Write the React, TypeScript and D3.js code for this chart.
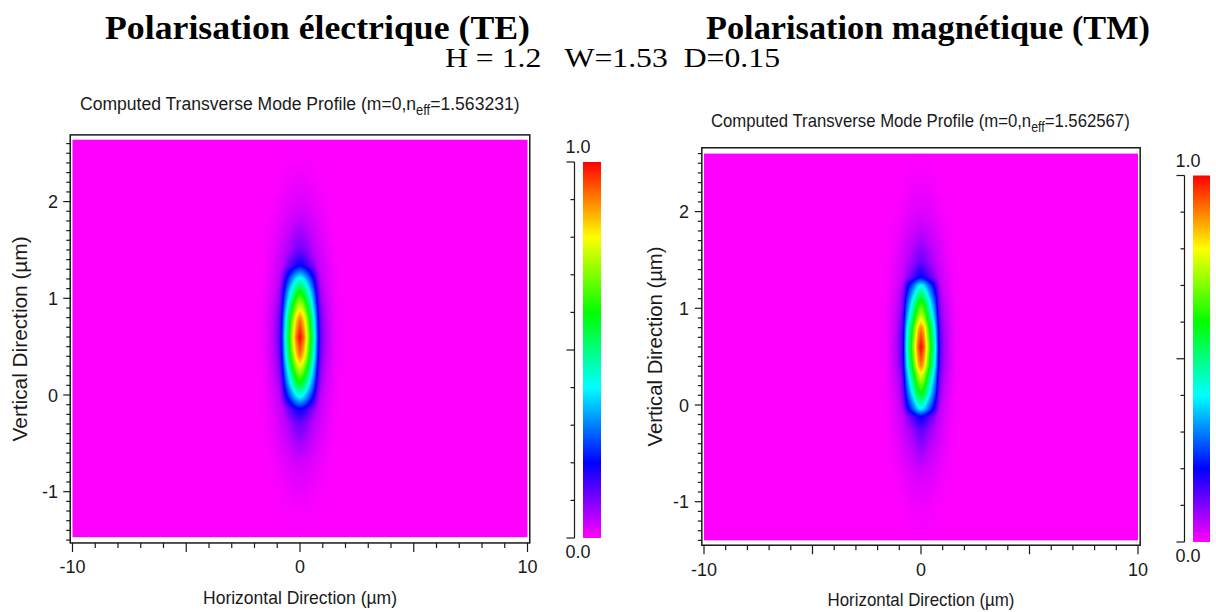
import React, { useMemo } from "react";
import * as d3 from "d3";

// Colour ramp used for the normalised field intensity (0 → 1)
const COLOR_STOPS = [0, 0.2, 0.4, 0.6, 0.8, 1];
const COLOR_RAMP = ["#ff00ff", "#0000ff", "#00ffff", "#00ff00", "#ffff00", "#ff0000"];

// TE mode core: normalised intensity against distance from the peak (µm)
const TE_H_DIST = [0, 0.12, 0.18, 0.29, 0.48, 0.66, 0.81, 0.92, 1.1, 1.37, 1.6, 2.0];
const TE_H_VAL = [1, 0.94, 0.9, 0.8, 0.6, 0.4, 0.2, 0.12, 0.07, 0.03, 0.008, 0];
const TE_V_DIST = [0, 0.15, 0.2, 0.29, 0.47, 0.62, 0.74, 0.88, 1.1, 1.35, 1.67, 2.1];
const TE_V_VAL = [1, 0.93, 0.9, 0.8, 0.6, 0.4, 0.2, 0.12, 0.07, 0.025, 0.005, 0];
const TE_PEAK = [0, 0.6];

// TM mode core: normalised intensity against distance from the peak (µm)
const TM_H_DIST = [0, 0.12, 0.17, 0.26, 0.46, 0.67, 0.81, 0.92, 1.1, 1.37, 1.6, 2.0];
const TM_H_VAL = [1, 0.94, 0.9, 0.8, 0.6, 0.4, 0.2, 0.12, 0.07, 0.03, 0.008, 0];
const TM_V_DIST = [0, 0.15, 0.2, 0.28, 0.48, 0.64, 0.72, 0.87, 1.1, 1.35, 1.67, 2.1];
const TM_V_VAL = [1, 0.93, 0.9, 0.8, 0.6, 0.4, 0.2, 0.12, 0.07, 0.025, 0.005, 0];
const TM_PEAK = [0, 0.6];

// Evanescent halo: intensity against normalised elliptical radius
const HALO_AXES = [1.65, 1.75]; // semi-axes (µm): horizontal, vertical
const HALO_R = [0, 0.45, 0.65, 0.8, 1.0, 1.2];
const HALO_VAL = [0.16, 0.1, 0.05, 0.025, 0.006, 0];

// Computational windows (µm) and axis extents
const TE_X_DATA = [-10, 10];
const TE_Y_DATA = [-1.47, 2.64];
const TE_X_AXIS = [-10.1, 10.1];
const TE_Y_AXIS = [-1.53, 2.69];
const TM_X_DATA = [-10, 10];
const TM_Y_DATA = [-1.4, 2.6];
const TM_X_AXIS = [-10.1, 10.1];
const TM_Y_AXIS = [-1.45, 2.66];

// Tick values
const X_TICKS = d3.range(-10, 11, 1);
const X_LABELS = [-10, 0, 10];
const Y_LABELS = [-1, 0, 1, 2];
const CB_TICKS = d3.range(0, 11).map((i) => i / 10);

const TE_NEFF = "1.563231";
const TM_NEFF = "1.562567";

const SANS = "'Liberation Sans', Arial, sans-serif";
const SERIF = "'Liberation Serif', 'Times New Roman', serif";
const INK = "#1a1a1a";
// natural width (px) of the subtitle line set in 19px Arial metrics
const SUBTITLE_NATURAL = 477;

const colorScale = d3
  .scaleLinear<string>()
  .domain(COLOR_STOPS)
  .range(COLOR_RAMP)
  .interpolate(d3.interpolateRgb)
  .clamp(true);

type Panel = {
  neff: string;
  hDist: number[];
  hVal: number[];
  vDist: number[];
  vVal: number[];
  peak: number[];
  xData: number[];
  yData: number[];
  xAxis: number[];
  yAxis: number[];
  // layout
  xPix: [number, number]; // pixel of x=-10 and x=10
  yPix: [number, number]; // pixel of y=0 and y=1
  titleX: number;
  titleLen: number;
  titleY: number;
  yLabelEnd: number;
  xLabelBase: number;
  xTitleBase: number;
  xTitleLen: number;
  yTitleX: number;
  yTitleLen: number;
  cb: { x0: number; x1: number; top: number; bottom: number; axisX: number; labelX: number };
};

function fieldImage(p: Panel, xs: d3.ScaleLinear<number, number>, ys: d3.ScaleLinear<number, number>) {
  const hProf = d3.scaleLinear().domain(p.hDist).range(p.hVal).clamp(true);
  const vProf = d3.scaleLinear().domain(p.vDist).range(p.vVal).clamp(true);
  const halo = d3.scaleLinear().domain(HALO_R).range(HALO_VAL).clamp(true);
  const left = xs(p.xData[0]);
  const right = xs(p.xData[1]);
  const top = ys(p.yData[1]);
  const bottom = ys(p.yData[0]);
  const w = Math.round(right - left);
  const h = Math.round(bottom - top);
  const canvas = document.createElement("canvas");
  canvas.width = w;
  canvas.height = h;
  const ctx = canvas.getContext("2d")!;
  const img = ctx.createImageData(w, h);
  for (let j = 0; j < h; j++) {
    const dy = ys.invert(top + j + 0.5) - p.peak[1];
    const vy = vProf(Math.abs(dy));
    for (let i = 0; i < w; i++) {
      const dx = xs.invert(left + i + 0.5) - p.peak[0];
      const core = hProf(Math.abs(dx)) * vy;
      const r = Math.hypot(dx / HALO_AXES[0], dy / HALO_AXES[1]);
      const v = Math.max(core, halo(r));
      const c = d3.rgb(colorScale(v));
      const k = (j * w + i) * 4;
      img.data[k] = c.r;
      img.data[k + 1] = c.g;
      img.data[k + 2] = c.b;
      img.data[k + 3] = 255;
    }
  }
  ctx.putImageData(img, 0, 0);
  return { url: canvas.toDataURL(), left, top, w: right - left, h: bottom - top };
}

function ModePanel({ p, id }: { p: Panel; id: string }) {
  const xs = useMemo(() => d3.scaleLinear().domain([-10, 10]).range(p.xPix), [p]);
  const ys = useMemo(() => d3.scaleLinear().domain([0, 1]).range(p.yPix), [p]);
  const field = useMemo(() => fieldImage(p, xs, ys), [p, xs, ys]);

  const fx0 = xs(p.xAxis[0]);
  const fx1 = xs(p.xAxis[1]);
  const fy0 = ys(p.yAxis[1]);
  const fy1 = ys(p.yAxis[0]);

  const yMinor = d3
    .range(Math.ceil(p.yAxis[0] * 10), Math.floor(p.yAxis[1] * 10) + 1)
    .map((k) => k / 10);

  const cbScale = d3.scaleLinear().domain([0, 1]).range([p.cb.bottom, p.cb.top]);
  const gradId = `cb-${id}`;
  const xMid = xs(0);
  const sx = p.titleLen / SUBTITLE_NATURAL;

  return (
    <g>
      {/* subtitle */}
      <text
        transform={`translate(${p.titleX},${p.titleY}) scale(${sx},1)`}
        fontFamily={SANS}
        fontSize={19}
        fill={INK}
      >
        <tspan>Computed Transverse Mode Profile (m=0,n</tspan>
        <tspan dy={5} fontSize={14}>
          eff
        </tspan>
        <tspan dy={-5}>={p.neff})</tspan>
      </text>

      {/* field map */}
      <image
        href={field.url}
        x={field.left}
        y={field.top}
        width={field.w}
        height={field.h}
        preserveAspectRatio="none"
      />

      {/* frame */}
      <rect x={fx0} y={fy0} width={fx1 - fx0} height={fy1 - fy0} fill="none" stroke={INK} strokeWidth={1.5} />

      {/* y ticks */}
      {yMinor.map((v) => {
        const major = Math.abs(v - Math.round(v)) < 1e-6;
        return (
          <line
            key={`y${v}`}
            x1={fx0 - (major ? 7 : 4)}
            x2={fx0}
            y1={ys(v)}
            y2={ys(v)}
            stroke={INK}
            strokeWidth={1.2}
          />
        );
      })}
      {Y_LABELS.map((v) => (
        <text
          key={`yl${v}`}
          x={p.yLabelEnd}
          y={ys(v) + 6.5}
          textAnchor="end"
          fontFamily={SANS}
          fontSize={18}
          fill={INK}
        >
          {v < 0 ? `-${Math.abs(v)}` : v}
        </text>
      ))}

      {/* x ticks */}
      {X_TICKS.map((v) => {
        const major = v % 5 === 0;
        return (
          <line
            key={`x${v}`}
            x1={xs(v)}
            x2={xs(v)}
            y1={fy1}
            y2={fy1 + (major ? 9 : 5)}
            stroke={INK}
            strokeWidth={1.2}
          />
        );
      })}
      {X_LABELS.map((v) => (
        <text
          key={`xl${v}`}
          x={xs(v)}
          y={p.xLabelBase}
          textAnchor="middle"
          fontFamily={SANS}
          fontSize={18}
          fill={INK}
        >
          {v < 0 ? `-${Math.abs(v)}` : v}
        </text>
      ))}

      {/* axis titles */}
      <text
        x={xMid - p.xTitleLen / 2}
        y={p.xTitleBase}
        fontFamily={SANS}
        fontSize={19}
        fill={INK}
        textLength={p.xTitleLen}
        lengthAdjust="spacingAndGlyphs"
      >
        Horizontal Direction (µm)
      </text>
      <text
        transform={`translate(${p.yTitleX},${(fy0 + fy1) / 2}) rotate(-90)`}
        x={-p.yTitleLen / 2}
        y={0}
        fontFamily={SANS}
        fontSize={20}
        fill={INK}
        textLength={p.yTitleLen}
        lengthAdjust="spacingAndGlyphs"
      >
        Vertical Direction (µm)
      </text>

      {/* colour bar */}
      <defs>
        <linearGradient id={gradId} x1="0" y1="1" x2="0" y2="0">
          {COLOR_STOPS.map((s, i) => (
            <stop key={s} offset={s} stopColor={COLOR_RAMP[i]} />
          ))}
        </linearGradient>
      </defs>
      <rect
        x={p.cb.x0}
        y={p.cb.top}
        width={p.cb.x1 - p.cb.x0}
        height={p.cb.bottom - p.cb.top}
        fill={`url(#${gradId})`}
      />
      <line x1={p.cb.axisX} x2={p.cb.axisX} y1={cbScale(0)} y2={cbScale(1)} stroke={INK} strokeWidth={1.2} />
      {CB_TICKS.map((t, i) => {
        const len = i === 0 || i === 5 || i === 10 ? 8 : 4;
        return (
          <line
            key={`cb${i}`}
            x1={p.cb.axisX - len}
            x2={p.cb.axisX}
            y1={cbScale(t)}
            y2={cbScale(t)}
            stroke={INK}
            strokeWidth={1.2}
          />
        );
      })}
      <text x={p.cb.labelX} y={cbScale(1) - 9} textAnchor="middle" fontFamily={SANS} fontSize={18} fill={INK}>
        1.0
      </text>
      <text x={p.cb.labelX} y={cbScale(0) + 20} textAnchor="middle" fontFamily={SANS} fontSize={18} fill={INK}>
        0.0
      </text>
    </g>
  );
}

const TE_PANEL: Panel = {
  neff: TE_NEFF,
  hDist: TE_H_DIST,
  hVal: TE_H_VAL,
  vDist: TE_V_DIST,
  vVal: TE_V_VAL,
  peak: TE_PEAK,
  xData: TE_X_DATA,
  yData: TE_Y_DATA,
  xAxis: TE_X_AXIS,
  yAxis: TE_Y_AXIS,
  xPix: [72.5, 527.5],
  yPix: [395, 298.3],
  titleX: 80,
  titleLen: 441,
  titleY: 110,
  yLabelEnd: 58,
  xLabelBase: 573,
  xTitleBase: 604,
  xTitleLen: 194,
  yTitleX: 27,
  yTitleLen: 205,
  cb: { x0: 583, x1: 601, top: 162, bottom: 538, axisX: 574.5, labelX: 578 },
};

const TM_PANEL: Panel = {
  neff: TM_NEFF,
  hDist: TM_H_DIST,
  hVal: TM_H_VAL,
  vDist: TM_V_DIST,
  vVal: TM_V_VAL,
  peak: TM_PEAK,
  xData: TM_X_DATA,
  yData: TM_Y_DATA,
  xAxis: TM_X_AXIS,
  yAxis: TM_Y_AXIS,
  xPix: [704, 1138],
  yPix: [405, 308.3],
  titleX: 711,
  titleLen: 420,
  titleY: 127,
  yLabelEnd: 689,
  xLabelBase: 576,
  xTitleBase: 606,
  xTitleLen: 187,
  yTitleX: 662,
  yTitleLen: 200,
  cb: { x0: 1193, x1: 1210, top: 175.5, bottom: 542, axisX: 1184.5, labelX: 1188 },
};

export default function App() {
  return (
    <svg width={1216} height={612} style={{ position: "absolute", left: 0, top: 0, background: "#fff" }}>
      <rect width={1216} height={612} fill="#fff" />
      <text
        x={105}
        y={39}
        fontFamily={SERIF}
        fontWeight="bold"
        fontSize={33}
        fill="#000"
        textLength={425}
        lengthAdjust="spacingAndGlyphs"
      >
        Polarisation électrique (TE)
      </text>
      <text
        x={706}
        y={39}
        fontFamily={SERIF}
        fontWeight="bold"
        fontSize={33}
        fill="#000"
        textLength={444}
        lengthAdjust="spacingAndGlyphs"
      >
        Polarisation magnétique (TM)
      </text>
      <text
        x={445}
        y={67}
        fontFamily={SERIF}
        fontSize={28}
        fill="#000"
        textLength={335}
        lengthAdjust="spacingAndGlyphs"
        style={{ whiteSpace: "pre" }}
      >
        {"H = 1.2   W=1.53  D=0.15"}
      </text>
      <ModePanel p={TE_PANEL} id="te" />
      <ModePanel p={TM_PANEL} id="tm" />
    </svg>
  );
}
